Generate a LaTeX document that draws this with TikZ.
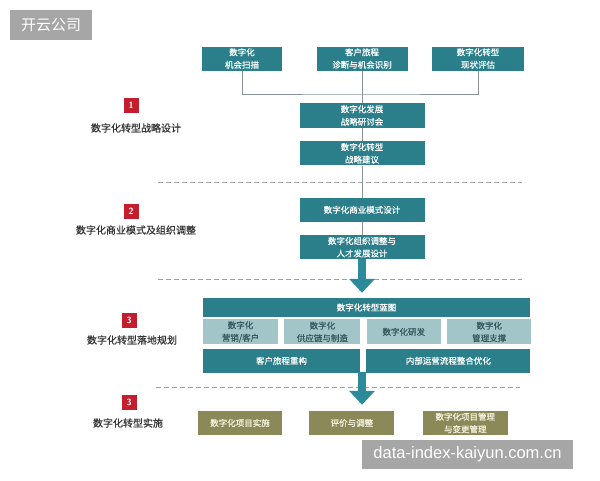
\documentclass[tikz,border=0pt]{standalone}
\usepackage{fontspec}
\newfontfamily\cjk{Noto Sans CJK SC}
\newfontfamily\cjkbold[FakeBold=0.6]{Noto Sans CJK SC}
\newfontfamily\wmfont{Liberation Sans}
\usepackage{tikz}
\usetikzlibrary{arrows.meta, positioning, calc}

\definecolor{tealbox}{HTML}{2A7F8A}
\definecolor{lightbox}{HTML}{A2C5C7}
\definecolor{lighttext}{HTML}{35595D}
\definecolor{olivebox}{HTML}{8C8958}
\definecolor{olivetext}{HTML}{F4F1DE}
\definecolor{badgered}{HTML}{C41E2E}
\definecolor{labeltext}{HTML}{333333}
\definecolor{linegray}{HTML}{8A9496}
\definecolor{arrowteal}{HTML}{2C8A9A}
\definecolor{markgray}{HTML}{A6A6A6}

\begin{document}
\begin{tikzpicture}[x=1pt,y=-1pt,>=latex]
            % Define the style for the blocks
            \tikzstyle{block} = [rectangle, fill=tealbox, text=white, minimum height=24pt, inner sep=0pt, text centered, align=center, font=\cjkbold\fontsize{8.5}{12.5}\selectfont]
            \tikzstyle{subblock} = [block, fill=lightbox, text=lighttext, minimum height=25pt]
            \tikzstyle{taskblock} = [block, fill=olivebox, text=olivetext]
            \tikzstyle{phase} = [text=labeltext, font=\cjkbold\fontsize{10}{12}\selectfont]
            \tikzstyle{badge} = [rectangle, fill=badgered, text=white, minimum size=15pt, inner sep=0pt, font=\sffamily\bfseries\fontsize{9}{10}\selectfont]
            \tikzstyle{sep} = [draw=gray!75, line width=1pt, dash pattern=on 5pt off 3pt]
            \tikzstyle{link} = [draw=linegray, line width=0.9pt]
            \tikzstyle{bigarrow} = [draw=arrowteal, line width=8pt, -{Triangle[width=25pt,length=14pt]}]
            \tikzstyle{stamp} = [rectangle, fill=markgray, text=white, inner sep=0pt]

            \useasboundingbox (0,0) rectangle (600,480);

            % Nodes position
            \node [block, minimum width=80pt] (scan) at (242,58.5) {数字化\\机会扫描};
            \node [block, minimum width=91pt] (diag) at (362,58.5) {客户旅程\\诊断与机会识别};
            \node [block, minimum width=92pt] (eval) at (478,58.5) {数字化转型\\现状评估};

            \node [block, minimum width=125pt, minimum height=25pt] (workshop) at (362,115.5) {数字化发展\\战略研讨会};
            \node [block, minimum width=125pt, below=13pt of workshop] (advice) {数字化转型\\战略建议};
            \node [block, minimum width=125pt, below=32pt of advice] (model) {数字化商业模式设计};
            \node [block, minimum width=125pt, below=13pt of model] (talent) {数字化组织调整与\\人才发展设计};

            \node [block, minimum width=327pt, minimum height=19pt] (blueprint) at (366.5,307.5) {数字化转型蓝图};
            \node [subblock, minimum width=75pt, below=2pt of blueprint.south west, anchor=north west] (marketing) {数字化\\营销/客户};
            \node [subblock, minimum width=76pt, right=6pt of marketing] (supply) {数字化\\供应链与制造};
            \node [subblock, minimum width=74pt, right=6pt of supply] (research) {数字化研发};
            \node [subblock, minimum width=84pt, right=6pt of research] (support) {数字化\\管理支撑};
            \node [block, minimum width=157pt, below=4pt of marketing.south west, anchor=north west] (journey) {客户旅程重构};
            \node [block, minimum width=164pt, right=6pt of journey] (operations) {内部运营流程整合优化};

            \node [taskblock, minimum width=84pt] (projects) at (240,423) {数字化项目实施};
            \node [taskblock, minimum width=85pt, right=27pt of projects] (review) {评价与调整};
            \node [taskblock, minimum width=85pt, right=28pt of review] (change) {数字化项目管理\\与变更管理};

            % Phase labels
            \node [badge] (one) at (131,105) {1};
            \node [phase] (strategy) at (136,128) {数字化转型战略设计};
            \node [badge] (two) at (131,211) {2};
            \node [phase] (business) at (136,230) {数字化商业模式及组织调整};
            \node [badge] (three) at (129,320) {3};
            \node [phase] (planning) at (132,340) {数字化转型落地规划};
            \node [badge] (four) at (129,402) {3};
            \node [phase] (delivery) at (128,423) {数字化转型实施};

            % Separators
            \draw [sep] (158,182) -- (522,182);
            \draw [sep] (158,279) -- (522,279);
            \draw [sep] (156,387) -- (520,387);

            % Arrows
            \coordinate (hub) at (362,94);
            \draw [link] (scan.south) |- (hub) -| (eval.south);
            \draw [link] (diag.south) -- (workshop.north);
            \draw [link] (workshop) -- (advice);
            \draw [link] (advice) -- (model);
            \draw [link] (model) -- (talent);
            \draw [bigarrow, shorten >=5pt] (talent.south) -- (talent.south |- blueprint.north);
            \coordinate (gap) at (362,372);
            \draw [bigarrow, shorten >=6pt] (gap) -- (gap |- review.north);

            % Watermarks
            \node [stamp, minimum width=82pt, minimum height=30pt, font=\cjk\fontsize{15}{16}\selectfont] (corner) at (51,25) {开云公司};
            \node [stamp, minimum width=211pt, minimum height=29pt, font=\wmfont\fontsize{16.5}{18}\selectfont] (site) at (467.5,454.5) {data-index-kaiyun.com.cn};
        \end{tikzpicture}
\end{document}
